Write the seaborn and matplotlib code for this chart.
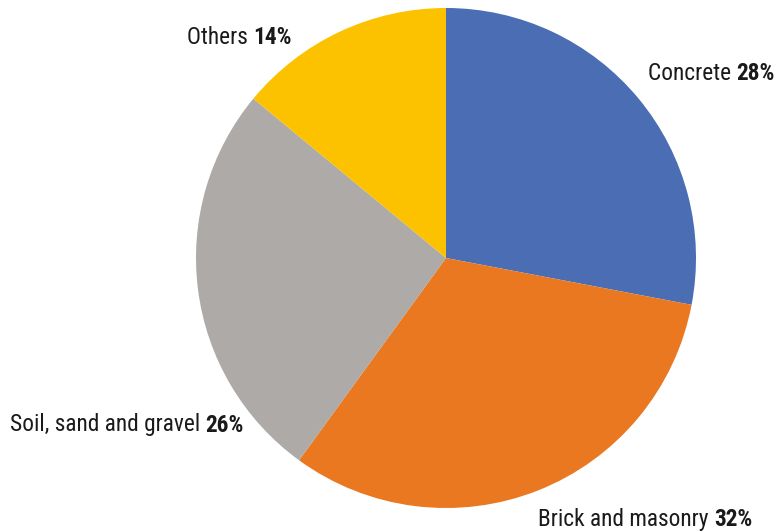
import matplotlib
matplotlib.use("Agg")
import matplotlib.pyplot as plt
from matplotlib import font_manager
import seaborn as sns

# Composition of construction and demolition waste
categories = ["Concrete", "Brick and masonry", "Soil, sand and gravel", "Others"]
shares = [28, 32, 26, 14]
colors = ["#4A6DB4", "#E97821", "#ADAAA8", "#FCC200"]

# label anchor points (data units, pie radius = 1)
label_pos = [(0.808, 0.736), (0.368, -1.045), (-1.745, -0.668), (-1.036, 0.88)]

sns.set_theme(style="white")
installed = {f.name for f in font_manager.fontManager.ttflist}
narrow = [n for n in ("Liberation Sans Narrow", "Roboto Condensed", "Open Sans Condensed")
          if n in installed]
plt.rcParams["font.family"] = narrow + ["Liberation Sans", "DejaVu Sans"]
fsize = 16.8 if narrow else 14

fig = plt.figure(figsize=(7.79, 5.32), dpi=100)
ax = fig.add_axes([0, 0, 1, 1])
ax.pie(shares, colors=colors, startangle=90, counterclock=False,
       radius=1, center=(0, 0), wedgeprops=dict(linewidth=0))
ax.set_xlim(-446 / 250, (779 - 446) / 250)
ax.set_ylim(-(532 - 258) / 250, 258 / 250)
ax.set_aspect("auto")
ax.axis("off")

for cat, val, (x, y) in zip(categories, shares, label_pos):
    t = ax.text(x, y, cat + " ", fontsize=fsize, color="#1a1a1a",
                ha="left", va="center")
    ax.annotate(f"{val}%", xy=(1, 0), xycoords=t, fontsize=fsize,
                fontweight="bold", color="#1a1a1a", ha="left", va="bottom")

fig.savefig("out.png", dpi=100)
